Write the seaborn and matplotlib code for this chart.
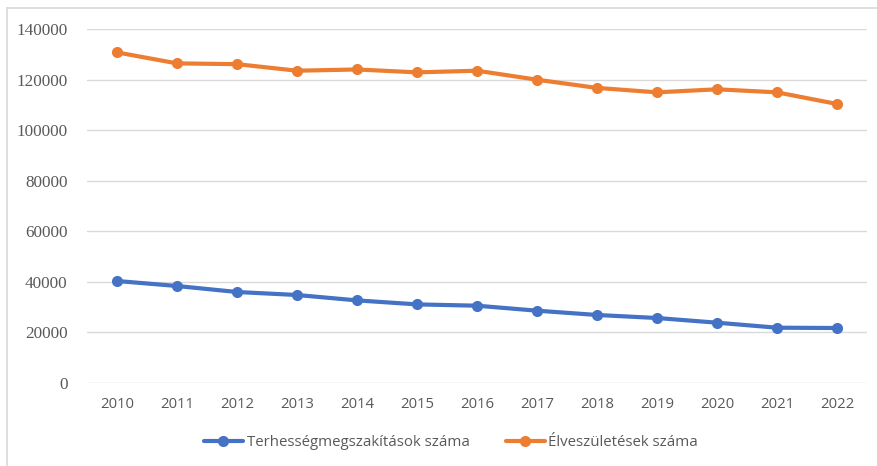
import matplotlib
matplotlib.use("Agg")
import matplotlib.pyplot as plt
import seaborn as sns
import pandas as pd
from matplotlib.lines import Line2D

years = [2010, 2011, 2012, 2013, 2014, 2015, 2016, 2017, 2018, 2019, 2020, 2021, 2022]
abortions = [40340, 38360, 35990, 34800, 32670, 31090, 30570, 28600, 26900, 25700, 23850, 21870, 21750]
births = [130750, 126400, 126100, 123500, 124000, 122850, 123500, 119950, 116700, 114950, 116150, 114950, 110350]
series_names = ["Terhességmegszakítások száma", "Élveszületések száma"]
yticks = [0, 20000, 40000, 60000, 80000, 100000, 120000, 140000]

df = pd.DataFrame({
    "year": years * 2,
    "value": abortions + births,
    "series": [series_names[0]] * len(years) + [series_names[1]] * len(years),
})

sns.set_theme(style="white")
palette = {series_names[0]: "#4472C4", series_names[1]: "#ED7D31"}

fig = plt.figure(figsize=(8.78, 4.66), dpi=100)
ax = fig.add_axes([87 / 878, 1 - 383 / 466, (867 - 87) / 878, (383 - 29) / 466])

sns.lineplot(data=df, x="year", y="value", hue="series", palette=palette,
             marker="o", markersize=8, markeredgewidth=0, linewidth=3.0,
             ax=ax, legend=False)

ax.set_xlim(years[0] - 0.5, years[-1] + 0.5)
ax.set_ylim(0, 140000)
ax.set_yticks(yticks)
ax.set_yticklabels([str(v) for v in yticks], fontfamily="Liberation Serif", fontsize=12.3, color="#595959")
ax.set_xticks(years)
ax.set_xticklabels([str(y) for y in years], fontfamily="Open Sans", fontsize=10.7, color="#595959")
ax.tick_params(axis="both", length=0)
ax.tick_params(axis="y", pad=14)
ax.tick_params(axis="x", pad=10)
ax.set_xlabel("")
ax.set_ylabel("")
ax.grid(axis="y", color="#D9D9D9", linewidth=1.0)
ax.set_axisbelow(True)
for s in ax.spines.values():
    s.set_visible(False)

handles = [Line2D([0], [0], color=palette[n], linewidth=3.0, marker="o", markersize=8,
                  markeredgewidth=0) for n in series_names]
leg = fig.legend(handles, series_names, loc="center", bbox_to_anchor=(451 / 878, 1 - 443 / 466),
                 ncol=2, frameon=False, handlelength=2.6, columnspacing=2.4, handletextpad=0.25,
                 prop={"family": "Open Sans", "size": 10.8})
for t in leg.get_texts():
    t.set_color("#595959")

# chart border (left and top visible)
fig.add_artist(Line2D([7 / 878, 7 / 878], [0, 1 - 8 / 466], transform=fig.transFigure,
                      color="#D9D9D9", linewidth=1.2))
fig.add_artist(Line2D([7 / 878, 1], [1 - 8 / 466, 1 - 8 / 466], transform=fig.transFigure,
                      color="#D9D9D9", linewidth=1.2))

fig.savefig("out.png", dpi=100)
